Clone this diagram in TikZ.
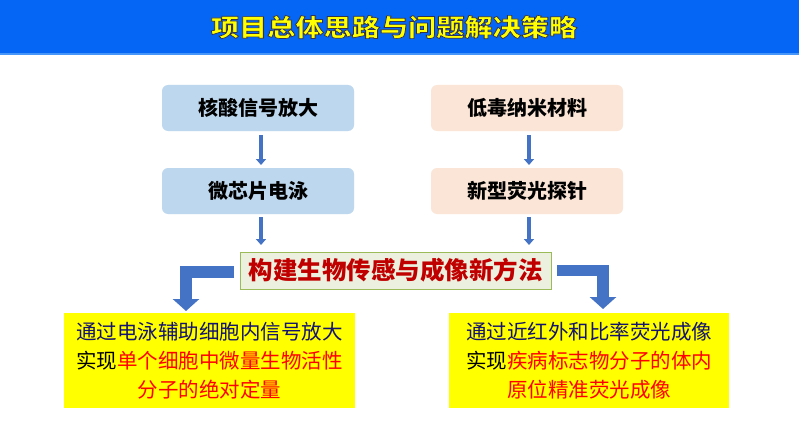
\documentclass[tikz,border=0pt]{standalone}
\usepackage{fontspec}
\setmainfont{Noto Sans CJK SC}
\usetikzlibrary{arrows.meta}
\definecolor{titleblue}{RGB}{5,102,245}
\definecolor{titleline}{RGB}{70,150,250}
\definecolor{boxblue}{RGB}{189,215,238}
\definecolor{boxpeach}{RGB}{251,229,214}
\definecolor{boxgreen}{RGB}{235,241,222}
\definecolor{greenline}{RGB}{155,187,89}
\definecolor{arrowblue}{RGB}{68,114,196}
\definecolor{navytext}{RGB}{20,20,110}
\definecolor{darkred}{RGB}{192,0,0}
\definecolor{brightred}{RGB}{255,0,0}
\definecolor{titleyellow}{RGB}{255,255,0}
\newcommand\outlinedtext[1]{\special{pdf:literal direct 2 Tr 0.7 w 0.2 0.2 0.3 RG}#1\special{pdf:literal direct 0 Tr}}
\begin{document}
\begin{tikzpicture}[x=1pt,y=-1pt,
  every node/.style={inner sep=0pt, outer sep=0pt},
  topbox/.style={rounded corners=6pt, minimum width=192pt, minimum height=46pt,
    font=\fontsize{20}{24}\selectfont\bfseries},
  bluebox/.style={topbox, fill=boxblue},
  peachbox/.style={topbox, fill=boxpeach},
  smallarrow/.style={draw=arrowblue, line width=4.5pt, -{Triangle[width=10pt,length=6pt]}},
  bigarrow/.style={draw=arrowblue, line width=11.5pt, line join=miter, -{Triangle[width=26pt,length=12pt]}},
  yellowbox/.style={fill=titleyellow, minimum height=95pt, align=center,
    font=\fontsize{20.5}{29}\selectfont}]
\useasboundingbox (0,0) rectangle (799,441);
\fill[white] (0,0) rectangle (799,441);
% title bar
\fill[titleblue] (0,0) rectangle (799,53);
\fill[titleline] (0,53) rectangle (799,55);
% boxes
\node[bluebox] (b1) at (258,108) {核酸信号放大};
\node[bluebox] (b2) at (258,191) {微芯片电泳};
\node[peachbox] (r1) at (527,108) {低毒纳米材料};
\node[peachbox] (r2) at (527,191) {新型荧光探针};
\node[fill=boxgreen, draw=greenline, line width=1pt, minimum width=311pt, minimum height=37pt,
  text=darkred, font=\fontsize{24.5}{28}\selectfont\bfseries] (c) at (395.5,270.5) {构建生物传感与成像新方法};
\node[yellowbox, minimum width=291pt] (L) at (209.5,360.5)
  {\color{navytext}通过电泳辅助细胞内信号放大\\
   实现\textcolor{brightred}{单个细胞中微量生物活性}\\
   \color{brightred}分子的绝对定量};
\node[yellowbox, minimum width=280pt] (R) at (589,360.5)
  {\color{navytext}通过近红外和比率荧光成像\\
   实现\textcolor{brightred}{疾病标志物分子的体内}\\
   \color{brightred}原位精准荧光成像};
% small arrows
\draw[smallarrow, shorten <=4pt, shorten >=3pt] ([xshift=3pt]b1.south) -- ([xshift=3pt]b2.north);
\draw[smallarrow, shorten <=3pt, shorten >=7pt] ([xshift=3pt]b2.south) -- ([xshift=3pt]b2.south |- c.north);
\draw[smallarrow, shorten <=4pt, shorten >=3pt] ([xshift=2pt]r1.south) -- ([xshift=2pt]r2.north);
\draw[smallarrow, shorten <=3pt, shorten >=7pt] ([xshift=2pt]r2.south) -- ([xshift=2pt]r2.south |- c.north);
% big bent arrows
\coordinate (lt) at (186,311);
\coordinate (rt) at (603,309);
\draw[bigarrow] ([xshift=-6pt,yshift=-1.5pt]c.west) -| (lt);
\draw[bigarrow] ([xshift=6pt]c.east) -| (rt);
% title
\node[text=titleyellow, font=\fontsize{24.5}{28}\selectfont\bfseries, xscale=1.15] (title) at (394,27)
  {\outlinedtext{项目总体思路与问题解决策略}};
\end{tikzpicture}
\end{document}
